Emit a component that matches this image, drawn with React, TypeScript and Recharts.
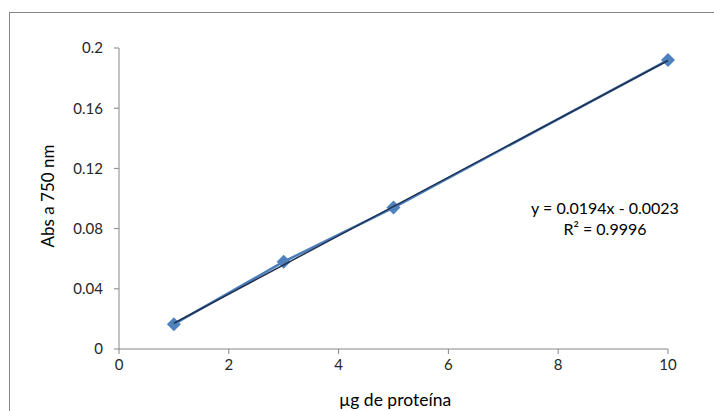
import React from 'react';
import { ComposedChart, Scatter, XAxis, YAxis } from 'recharts';

// measured points
const proteinUg = [1, 3, 5, 10];
const absorbance = [0.0165, 0.058, 0.094, 0.192];

// linear trendline endpoints (y = 0.0194x - 0.0023)
const trendX = [1, 10];
const trendY = [0.0171, 0.1917];

const xTicks = [0, 2, 4, 6, 8, 10];
const yTicks = [0, 0.04, 0.08, 0.12, 0.16, 0.2];

const points = proteinUg.map((x, i) => ({ x, y: absorbance[i] }));
const trend = trendX.map((x, i) => ({ x, y: trendY[i] }));

const FONT = 'Lato, "Open Sans", sans-serif';

const Diamond = (props: any) => {
  const { cx, cy } = props;
  const r = 7;
  return (
    <polygon
      points={`${cx},${cy - r} ${cx + r},${cy} ${cx},${cy + r} ${cx - r},${cy}`}
      fill="#4F81BD"
    />
  );
};

const NoDot = () => <g />;

const App: React.FC = () => {
  return (
    <div style={{ position: 'absolute', left: 0, top: 0, width: 714, height: 411, background: '#fff', fontFamily: FONT }}>
      {/* chart frame, only top and left edges are visible */}
      <div style={{ position: 'absolute', left: 9, top: 12, width: 705, height: 399, borderTop: '1px solid #868686', borderLeft: '1px solid #868686' }} />
      <ComposedChart width={714} height={411} margin={{ top: 48, right: 46, left: 0, bottom: 32 }}>
        <XAxis
          type="number"
          dataKey="x"
          domain={[0, 10]}
          ticks={xTicks}
          height={30}
          axisLine={{ stroke: '#868686' }}
          tickLine={{ stroke: '#868686' }}
          tickSize={5}
          tickMargin={5}
          tick={{ fill: '#262626', fontSize: 15, fontFamily: FONT }}
        />
        <YAxis
          type="number"
          dataKey="y"
          domain={[0, 0.2]}
          ticks={yTicks}
          width={119}
          axisLine={{ stroke: '#868686' }}
          tickLine={{ stroke: '#868686' }}
          tickSize={5}
          tickMargin={11}
          tick={{ fill: '#262626', fontSize: 15, fontFamily: FONT }}
        />
        <Scatter
          data={points}
          line={{ stroke: '#4A7EBB', strokeWidth: 2.5 }}
          shape={<Diamond />}
          isAnimationActive={false}
        />
        <Scatter
          data={trend}
          line={{ stroke: '#1F3050', strokeWidth: 1.5 }}
          shape={<NoDot />}
          isAnimationActive={false}
        />
      </ComposedChart>
      <div style={{ position: 'absolute', left: 47, top: 196, transform: 'translate(-50%, -50%) rotate(-90deg)', fontSize: 17, color: '#000', whiteSpace: 'nowrap' }}>
        Abs a 750 nm
      </div>
      <div style={{ position: 'absolute', left: 395, top: 399, transform: 'translate(-50%, -50%)', fontSize: 17.5, color: '#000', whiteSpace: 'nowrap' }}>
        µg de proteína
      </div>
      <div style={{ position: 'absolute', left: 605, top: 218, transform: 'translate(-50%, -50%)', fontSize: 16, lineHeight: '21px', color: '#000', textAlign: 'center', whiteSpace: 'nowrap' }}>
        y = 0.0194x - 0.0023
        <br />
        R² = 0.9996
      </div>
    </div>
  );
};

export default App;
